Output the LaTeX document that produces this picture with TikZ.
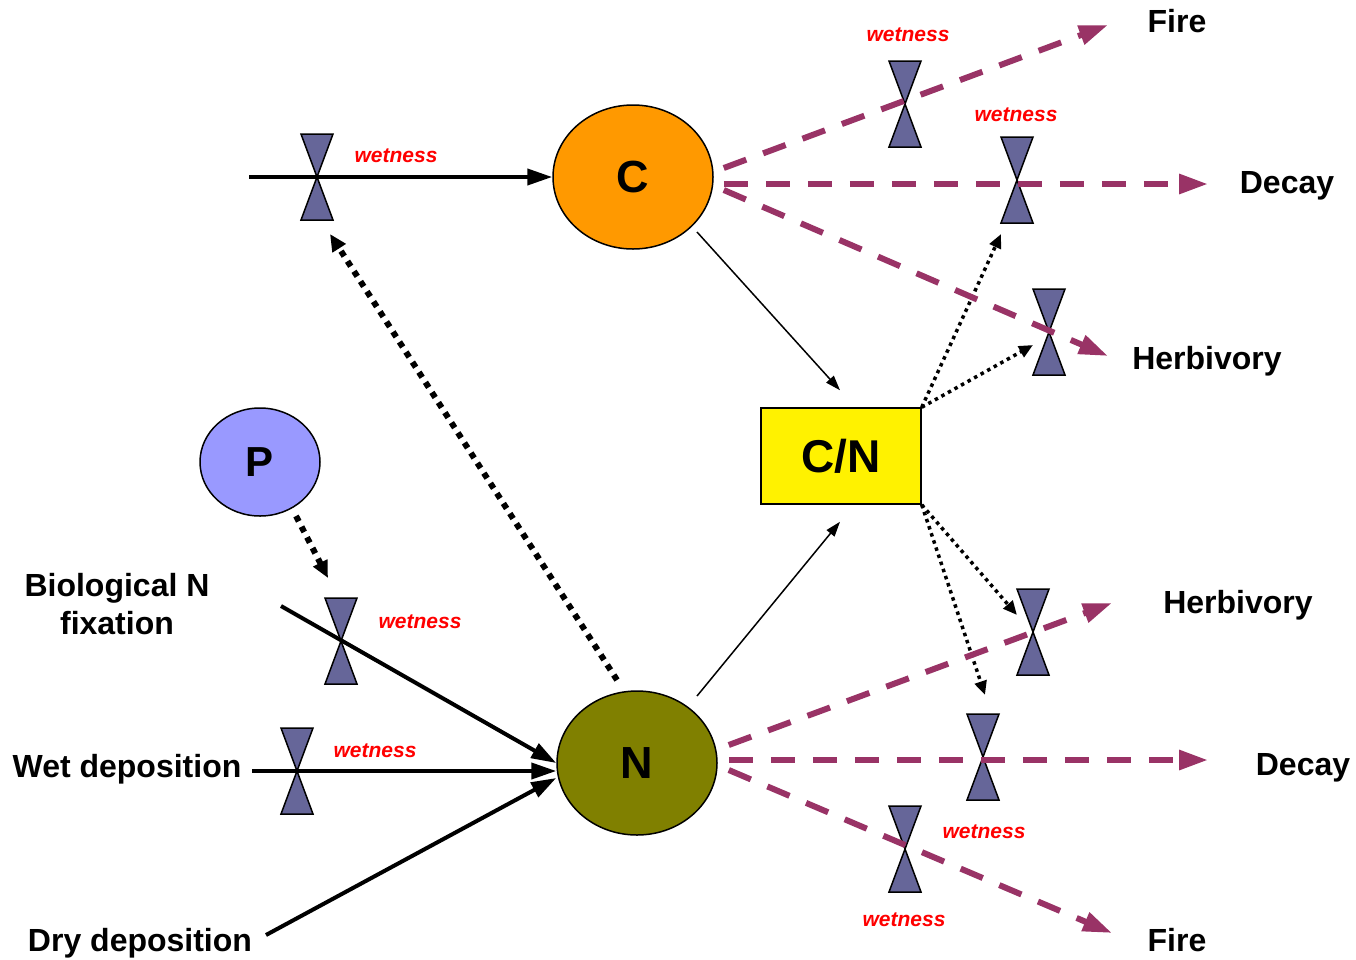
\documentclass[tikz,border=0pt]{standalone}
\usepackage{fontspec}
\setmainfont{Liberation Sans}
\usepackage{tikz}
\usetikzlibrary{arrows.meta}
\usetikzlibrary{shapes.geometric}
\definecolor{valvecol}{HTML}{666699}
\definecolor{losscol}{HTML}{993366}
\definecolor{Ccol}{HTML}{FF9900}
\definecolor{Ncol}{HTML}{808000}
\definecolor{Pcol}{HTML}{9999FF}

\begin{document}
\begin{tikzpicture}[x=1pt,y=-1pt,
  pool/.style={ellipse,draw=black,line width=1.5pt,minimum width=160pt,minimum height=144pt,inner sep=0pt,font=\fontsize{45}{45}\selectfont\bfseries},
  lab/.style={anchor=base,font=\fontsize{32}{38}\selectfont\bfseries},
  ctrl/.style={anchor=base,text=red,font=\fontsize{21}{21}\selectfont\bfseries\itshape},
  valve/.style={draw=black,fill=valvecol,line width=1.5pt},
  solidflow/.style={line width=4pt,-{Triangle[length=25pt,width=16pt]}},
  thinflow/.style={line width=1.5pt,-{Triangle[length=15pt,width=10pt]}},
  loss/.style={losscol,line width=6pt,dash pattern=on 24pt off 18pt,-{Triangle[length=29pt,width=19pt]}},
  bigdots/.style={line width=6pt,dash pattern=on 6pt off 6pt,-{Triangle[length=17pt,width=15pt]}},
  smalldots/.style={line width=3.5pt,dash pattern=on 3.5pt off 4pt,-{Triangle[length=14pt,width=12pt]}}]
\useasboundingbox (0,0) rectangle (1356,959);
\foreach \n/\x/\y in {v1/317/177,v2/905/104,v3/1017/180,v4/1049/332,v5/341/641,v6/297/771,v7/1033/632,v8/983/757,v9/905/849}
  {\coordinate (\n) at (\x,\y);
   \draw[valve] (\x-16,\y-43) -- (\x+16,\y-43) -- (\x-16,\y+43) -- (\x+16,\y+43) -- cycle;}%valves
\node[pool,fill=Ccol] (C) at (633,177) {C};
\node[pool,fill=Ncol] (N) at (637,763) {N};
\node[pool,fill=Pcol,minimum width=120pt,minimum height=108pt,font=\fontsize{42}{42}\selectfont\bfseries] (P) at (260,462) {P};
\node[draw=black,fill=yellow,line width=1.5pt,minimum width=160pt,minimum height=96pt,font=\fontsize{46}{46}\selectfont\bfseries] (CN) at (841,456) {C/N};
\node[lab] (fireC) at (1177,32) {Fire};
\node[lab] (decayC) at (1287,193) {Decay};
\node[lab] (herbC) at (1207,369) {Herbivory};
\node[lab] (herbN) at (1238,613) {Herbivory};
\node[lab] (decayN) at (1303,775) {Decay};
\node[lab] (fireN) at (1177,951) {Fire};
\node[lab,anchor=center,align=center] (bio) at (117,604) {Biological N\\fixation};
\node[lab] (wetdep) at (127,777) {Wet deposition};
\node[lab] (drydep) at (140,951) {Dry deposition};
\node[ctrl] (w1) at (396,162) {wetness};
\node[ctrl] (w2) at (908,41) {wetness};
\node[ctrl] (w3) at (1016,121) {wetness};
\node[ctrl] (w4) at (420,628) {wetness};
\node[ctrl] (w5) at (375,757) {wetness};
\node[ctrl] (w6) at (984,838) {wetness};
\node[ctrl] (w7) at (904,926) {wetness};
\coordinate (cin) at (249,177);
\coordinate (bioin) at (281,606);
\coordinate (wetin) at (252,771);
\coordinate (dryin) at (266,935);
\coordinate (cfire) at (1108,25);
\coordinate (cdecay) at (1208,184);
\coordinate (cherb) at (1108,356);
\coordinate (nherb) at (1112,603);
\coordinate (ndecay) at (1208,760);
\coordinate (nfire) at (1112,933);
\draw[solidflow] (cin) -- (C);
\draw[solidflow] (bioin) -- (N.west);
\draw[solidflow] (wetin) -- ([yshift=-8pt]N.west);
\draw[solidflow] (dryin) -- ([yshift=-15pt]N.west);
\draw[thinflow] ([shift={(64,55)}]C.center) -- ([shift={(-1,-17)}]CN.north);
\draw[thinflow] ([shift={(60,-67)}]N.center) -- ([shift={(-1,17)}]CN.south);
\draw[bigdots] ([shift={(-20,-83)}]N.center) -- ([shift={(13,57)}]v1);
\draw[bigdots] ([shift={(36,54)}]P.center) -- ([shift={(-13,-63)}]v5);
\draw[smalldots] (CN.north east) -- ([shift={(-16,54)}]v3);
\draw[smalldots] (CN.north east) -- ([shift={(-16,13)}]v4);
\draw[smalldots] (CN.south east) -- ([shift={(-16,-17)}]v7);
\draw[smalldots] (CN.south east) -- ([shift={(2,-62)}]v8);
\draw[loss] ([shift={(10,-9)}]C.east) -- (cfire);
\draw[loss] ([shift={(10,7)}]C.east) -- (cdecay);
\draw[loss] ([shift={(10,13)}]C.east) -- (cherb);
\draw[loss] ([shift={(11,-18)}]N.east) -- (nherb);
\draw[loss] ([shift={(11,-3)}]N.east) -- (ndecay);
\draw[loss] ([shift={(11,7)}]N.east) -- (nfire);
\end{tikzpicture}
\end{document}
